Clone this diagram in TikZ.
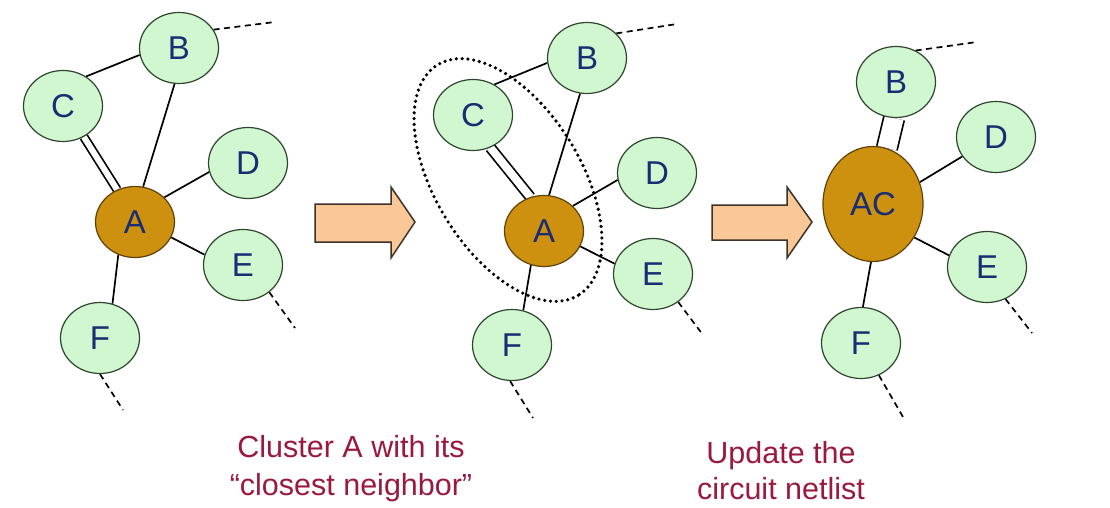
\documentclass[tikz,border=0pt]{standalone}
\usepackage{fontspec}
\setmainfont{Liberation Sans}
\usetikzlibrary{shapes.geometric}

\definecolor{leaf}{RGB}{208,247,208}
\definecolor{leafline}{RGB}{45,70,45}
\definecolor{hub}{RGB}{205,145,15}
\definecolor{hubline}{RGB}{95,65,10}
\definecolor{glyph}{RGB}{25,45,115}
\definecolor{caption}{RGB}{155,25,65}
\definecolor{peach}{RGB}{250,200,150}
\definecolor{arrowline}{RGB}{60,50,40}

\pgfdeclarelayer{paper}
\pgfdeclarelayer{wires}
\pgfsetlayers{paper,wires,main}

\begin{document}
\begin{tikzpicture}[x=1pt,y=-1pt,
  vertex/.style={ellipse, draw=leafline, line width=1.2pt, fill=leaf,
    minimum width=79pt, minimum height=71pt, inner sep=0pt,
    text=glyph, font=\fontsize{33}{33}\selectfont},
  hubvertex/.style={vertex, fill=hub, draw=hubline},
  link/.style={line width=1.7pt, black},
  tiedlink/.style={link, double=white, double distance=#1},
  stub/.style={link, dash pattern=on 6pt off 4.5pt},
  ring/.style={line width=3.6pt, dash pattern=on 0pt off 5.8pt, line cap=round},
  shiftarrow/.style={draw=arrowline, line width=1.5pt, fill=peach, line join=miter},
  note/.style={text=caption, font=\fontsize{30.5}{36}\selectfont, anchor=base, inner sep=0pt}
]
\begin{pgfonlayer}{paper}
  \fill[white] (0,0) rectangle (1110,508);
\end{pgfonlayer}
\useasboundingbox (0,0) rectangle (1110,508);

% ---------- initial netlist ----------
\node[vertex]    (b1) at (179,48)  {B};
\node[vertex]    (c1) at (63,106)  {C};
\node[vertex]    (d1) at (248,163) {D};
\node[hubvertex] (a1) at (135,222) {A};
\node[vertex]    (e1) at (243,265) {E};
\node[vertex]    (f1) at (100,338) {F};
\coordinate (b1x) at (275,22);
\coordinate (e1x) at (295,328);
\coordinate (f1x) at (123,410);

\begin{pgfonlayer}{wires}
  \draw[link] (c1.52) -- (b1.190);
  \draw[tiedlink=6pt] (c1.304) -- (a1.119);
  \draw[link] (b1.263) -- (a1.77);
  \draw[link] (d1.193) -- (a1.40);
  \draw[link] (a1.337) -- (e1.165);
  \draw[link] (a1.243) -- (f1.70);
  \draw[stub] (b1.28) -- (b1x);
  \draw[stub] (e1.314) -- (e1x);
  \draw[stub] (f1.270) -- (f1x);
\end{pgfonlayer}

\draw[shiftarrow] (315,204) -- (391,204) -- (391,187) -- (415,222)
  -- (391,258) -- (391,242) -- (315,242) -- cycle;

% ---------- cluster selection ----------
\node[vertex]    (b2) at (587,58)  {B};
\node[vertex]    (c2) at (473,115) {C};
\node[vertex]    (d2) at (657,173) {D};
\node[hubvertex] (a2) at (544,231) {A};
\node[vertex]    (e2) at (653,274) {E};
\node[vertex]    (f2) at (512,345) {F};
\coordinate (b2x) at (677,24);
\coordinate (e2x) at (703,335);
\coordinate (f2x) at (533,418);

\begin{pgfonlayer}{wires}
  \draw[link] (c2.55) -- (b2.187);
  \draw[tiedlink=8pt] (c2.298) -- (a2.112);
  \draw[link] (b2.259) -- (a2.82);
  \draw[link] (d2.190) -- (a2.41);
  \draw[link] (a2.337) -- (e2.165);
  \draw[link] (a2.249) -- (f2.72);
  \draw[stub] (b2.40) -- (b2x);
  \draw[stub] (e2.312) -- (e2x);
  \draw[stub] (f2.267) -- (f2x);
\end{pgfonlayer}

\draw[ring] (508,180) circle[x radius=135, y radius=73, rotate=-58.6];

\draw[shiftarrow] (712,205) -- (787,205) -- (787,187) -- (812,222)
  -- (787,258) -- (787,240) -- (712,240) -- cycle;

% ---------- updated netlist ----------
\node[vertex]    (b3) at (896,82)  {B};
\node[vertex]    (d3) at (996,137) {D};
\node[hubvertex, minimum width=100pt, minimum height=115pt] (ac) at (873,204) {AC};
\node[vertex]    (e3) at (987,267) {E};
\node[vertex]    (f3) at (861,343) {F};
\coordinate (b3x) at (977,42);
\coordinate (e3x) at (1032,333);
\coordinate (f3x) at (903,417);

\begin{pgfonlayer}{wires}
  \draw[tiedlink=19pt] (b3.267) -- (ac.76);
  \draw[link] (d3.210) -- (ac.25);
  \draw[link] (ac.321) -- (e3.163);
  \draw[link] (ac.268) -- (f3.87);
  \draw[stub] (b3.58) -- (b3x);
  \draw[stub] (e3.300) -- (e3x);
  \draw[stub] (f3.299) -- (f3x);
\end{pgfonlayer}

% ---------- captions ----------
\node[note] (cap1a) at (351,457) {Cluster A with its};
\node[note] (cap1b) at (351,495) {“closest neighbor”};
\node[note] (cap2a) at (781,463) {Update the};
\node[note] (cap2b) at (781,499) {circuit netlist};
\end{tikzpicture}
\end{document}
